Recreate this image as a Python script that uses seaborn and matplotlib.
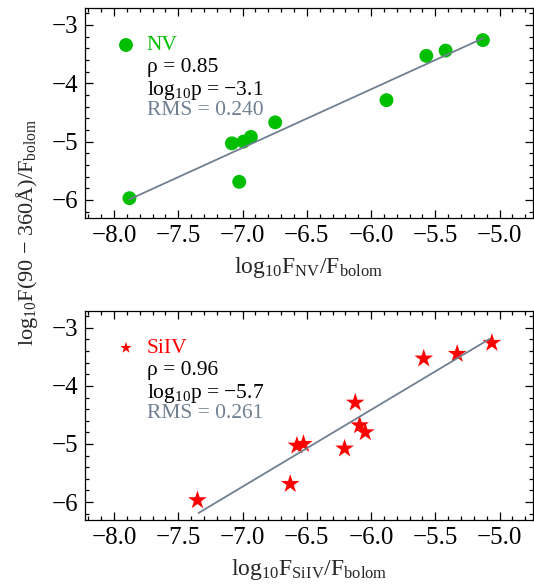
import matplotlib
matplotlib.use("Agg")
import matplotlib.pyplot as plt
import seaborn as sns
import pandas as pd
from matplotlib.ticker import MultipleLocator

# ---- data ----
nv_x = [-7.88, -7.083, -6.993, -6.935, -7.026, -6.746, -5.88, -5.57, -5.42, -5.13]
nv_y = [-5.97, -5.03, -5.00, -4.92, -5.69, -4.67, -4.29, -3.53, -3.44, -3.26]
nv_fit_x = [-7.88, -5.13]
nv_fit_y = [-5.99, -3.23]

si_x = [-7.351, -6.629, -6.577, -6.526, -6.206, -6.123, -6.089, -6.045, -5.59, -5.33, -5.06]
si_y = [-5.97, -5.69, -5.03, -5.00, -5.08, -4.29, -4.68, -4.80, -3.53, -3.45, -3.26]
si_fit_x = [-7.343, -5.077]
si_fit_y = [-6.19, -3.19]

nv_stats = ["NV", "ρ = 0.85", r"log$_{10}$p = −3.1", "RMS = 0.240"]
si_stats = ["SiIV", "ρ = 0.96", r"log$_{10}$p = −5.7", "RMS = 0.261"]

x_ticks = [-8.0, -7.5, -7.0, -6.5, -6.0, -5.5, -5.0]
y_ticks = [-6, -5, -4, -3]

sns.set_style("ticks")
plt.rcParams["font.family"] = ["Liberation Serif", "DejaVu Serif"]
plt.rcParams["mathtext.fontset"] = "custom"
plt.rcParams["mathtext.rm"] = "Liberation Serif"
plt.rcParams["mathtext.it"] = "Liberation Serif:italic"
plt.rcParams["mathtext.default"] = "regular"
plt.rcParams["axes.unicode_minus"] = True

GREEN = "#00BE00"
RED = "#FF0000"
SLATE = "#708090"

W, H = 534, 586
fig = plt.figure(figsize=(W / 100, H / 100), dpi=100)

def px_axes(left, top, right, bottom):
    return fig.add_axes([left / W, 1 - bottom / H, (right - left) / W, (bottom - top) / H])

ax1 = px_axes(85, 8, 533, 218)
ax2 = px_axes(85, 311, 533, 520)

panels = [
    (ax1, nv_x, nv_y, nv_fit_x, nv_fit_y, nv_stats, GREEN, "o", 100, r"$\mathrm{log_{10}F_{NV}/F_{bolom}}$"),
    (ax2, si_x, si_y, si_fit_x, si_fit_y, si_stats, RED, "*", 200, r"$\mathrm{log_{10}F_{SiIV}/F_{bolom}}$"),
]

for ax, xs, ys, fx, fy, stats, col, mk, ms, xlab in panels:
    df = pd.DataFrame({"x": xs, "y": ys})
    sns.scatterplot(data=df, x="x", y="y", ax=ax, color=col, marker=mk, s=ms,
                    edgecolor="none", linewidth=0, zorder=3)
    fdf = pd.DataFrame({"x": fx, "y": fy})
    sns.lineplot(data=fdf, x="x", y="y", ax=ax, color=SLATE, linewidth=1.3, zorder=4)
    ax.set_xlim(-8.226, -4.74)
    ax.set_ylim(-6.31, -2.71)
    ax.set_xticks(x_ticks)
    ax.set_xticklabels([f"{t:.1f}".replace("-", "−") for t in x_ticks])
    ax.set_yticks(y_ticks)
    ax.set_yticklabels([f"{t:d}".replace("-", "−") for t in y_ticks])
    ax.xaxis.set_minor_locator(MultipleLocator(0.1))
    ax.yaxis.set_minor_locator(MultipleLocator(0.2))
    ax.tick_params(which="both", direction="in", top=True, right=True, width=0.9,
                   labelsize=18, colors="black")
    ax.tick_params(which="major", length=6, pad=5)
    ax.tick_params(which="minor", length=3)
    for sp in ax.spines.values():
        sp.set_linewidth(0.9)
        sp.set_color("black")
    ax.set_xlabel(xlab, fontsize=17, labelpad=6)
    ax.set_ylabel("")

    # annotation block (axes fraction from pixel offsets below top)
    h = 210.0
    offs = [35, 57, 79, 100]
    cols = [col, "black", "black", SLATE]
    for txt, o, c in zip(stats, offs, cols):
        ax.text(0.138, 1 - o / h, txt, transform=ax.transAxes, fontsize=15.5,
                color=c, ha="left", va="center_baseline")
    ax.scatter([0.0915], [1 - 37 / h], transform=ax.transAxes, color=col, marker=mk,
               s=(100 if mk == "o" else 75), edgecolors="none", clip_on=False, zorder=5)

fig.text(27 / W, 1 - 232 / H, "log$_{10}$F(90 − 360Å)/F$_{bolom}$", rotation=90,
         fontsize=16, ha="center", va="center")

fig.savefig("out.png", dpi=100)
